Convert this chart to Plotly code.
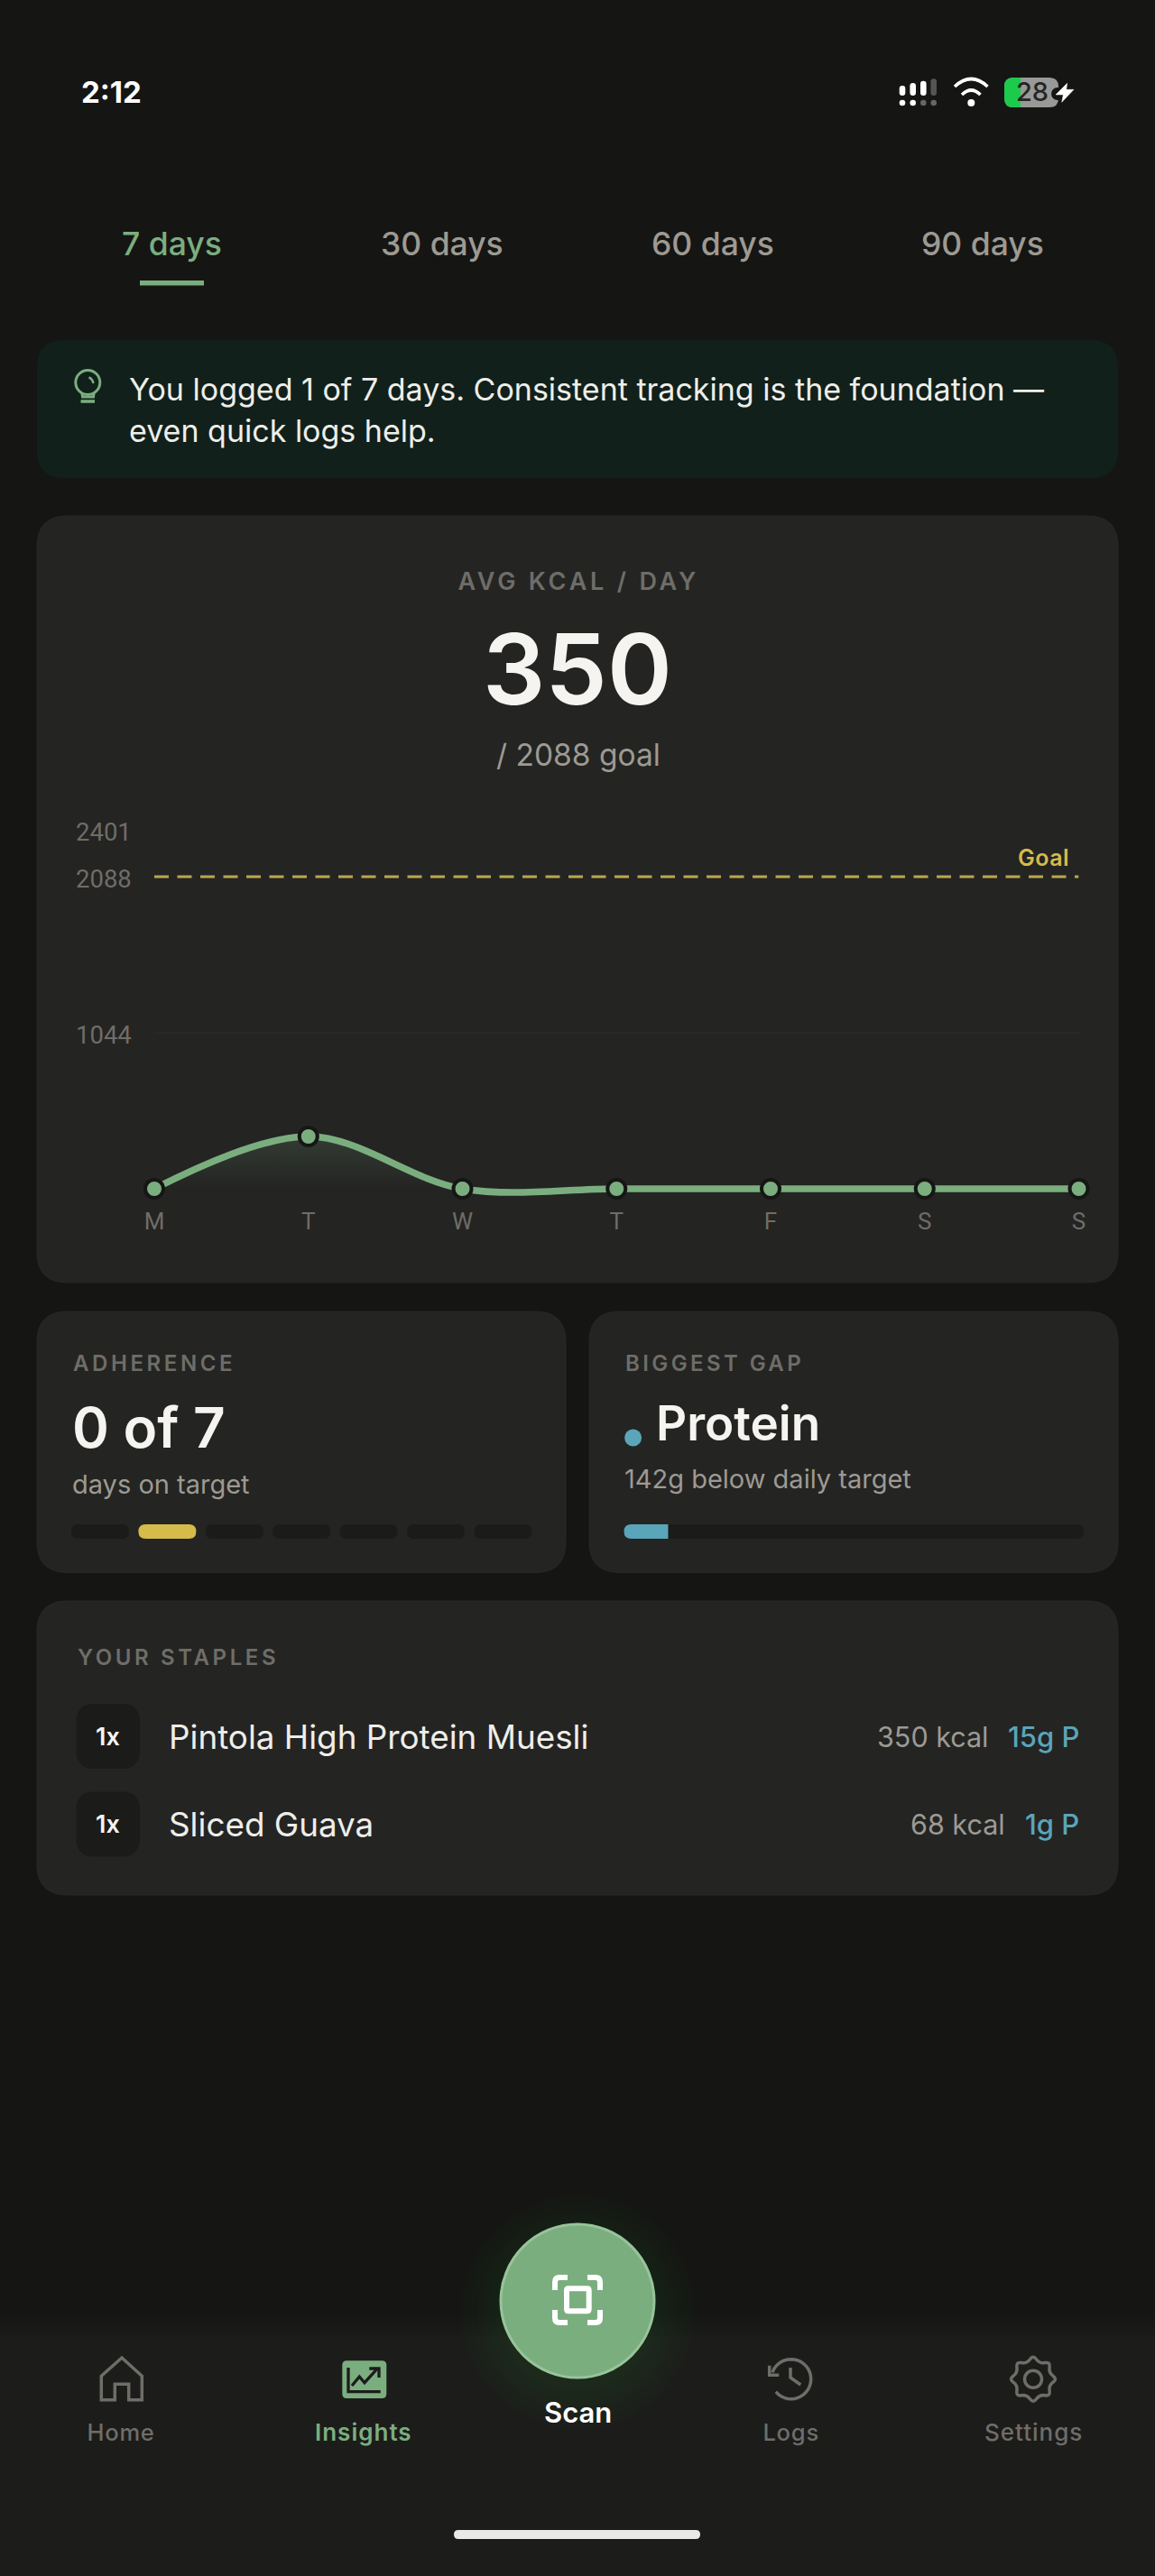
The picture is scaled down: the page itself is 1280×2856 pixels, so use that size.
import math
import re
import plotly.graph_objects as go

W, H = 1280, 2856

# chart values
DAYS = ["M", "T", "W", "T", "F", "S", "S"]
KCAL = [0, 350, 0, 0, 0, 0, 0]
GOAL = 2088
Y_TICKS = [0, 1044, 2088, 2401]
Y_MAX = 2401
GRID_VALUE = 1044

# other numbers shown on the screen
TABS = ["7 days", "30 days", "60 days", "90 days"]
TAB_CENTERS = [190, 490, 790, 1089]
ADHERENCE_HITS = [0, 1, 0, 0, 0, 0, 0]
GAP_FILL = 0.096
STAPLE_NAMES = ["Pintola High Protein Muesli", "Sliced Guava"]
STAPLE_KCAL = ["350 kcal", "68 kcal"]
STAPLE_PROTEIN = ["15g P", "1g P"]

BG = "#151514"
NAV = "#1c1c1b"
CARD = "#242423"
CARD_EDGE = "#282827"
SLOT = "#1b1b1a"
GREEN = "#7bae7f"
YELLOW = "#d4bb4a"
BLUE = "#5aa5b9"
WHITE = "#f5f4f1"
MUTED = "#9d9a92"
DIM = "#6f6d68"
FONT = "Inter"

# plot area: 0 kcal sits at y=1318, 2401 at y=920, padded so the curve and top label are not cut
Y_ZERO_PX = 1318
PX_PER_KCAL = (1318 - 920) / Y_MAX
Y_PAD_LOW = -80
Y_PAD_HIGH = Y_MAX + 120


def X(v):
    return v / W


def Y(v):
    return 1 - v / H


def pp(d):
    """Turn a pixel path string into a paper path string."""
    tokens = re.findall(r"[MLQCZ]|-?[\d.]+", d)
    out, is_x = [], True
    for t in tokens:
        if t in "MLQCZ":
            out.append(t)
        else:
            out.append(f"{X(float(t)):.6f}" if is_x else f"{Y(float(t)):.6f}")
            is_x = not is_x
    return " ".join(out)


shapes = []
annotations = []


def path(d, fill=None, line=None, width=0):
    shapes.append(dict(type="path", xref="paper", yref="paper", path=pp(d), layer="below",
                       fillcolor=fill or "rgba(0,0,0,0)",
                       line=dict(color=line or "rgba(0,0,0,0)", width=width)))


def rect(x0, y0, x1, y1, r=0, fill=None, line=None, width=0, right_r=None):
    rr = r if right_r is None else right_r
    d = (f"M {x0 + r} {y0} L {x1 - rr} {y0} Q {x1} {y0} {x1} {y0 + rr} "
         f"L {x1} {y1 - rr} Q {x1} {y1} {x1 - rr} {y1} L {x0 + r} {y1} "
         f"Q {x0} {y1} {x0} {y1 - r} L {x0} {y0 + r} Q {x0} {y0} {x0 + r} {y0} Z")
    path(d, fill, line, width)


def circle(cx, cy, r, fill=None, line=None, width=0):
    shapes.append(dict(type="circle", xref="paper", yref="paper", layer="below",
                       x0=X(cx - r), x1=X(cx + r), y0=Y(cy + r), y1=Y(cy - r),
                       fillcolor=fill or "rgba(0,0,0,0)",
                       line=dict(color=line or "rgba(0,0,0,0)", width=width)))


def txt(x, y, text, size, color, anchor="left", weight=400, family=FONT):
    annotations.append(dict(x=X(x), y=Y(y), xref="paper", yref="paper", text=text,
                            showarrow=False, xanchor=anchor, yanchor="middle",
                            align=anchor, borderpad=0,
                            font=dict(family=family, size=size, color=color, weight=weight)))


# page background and nav strip
rect(0, 2590, W, H, fill=NAV)
for i, col in enumerate(["#161615", "#171716", "#181817", "#191918", "#1a1a19"]):
    rect(0, 2565 + i * 5, W, 2590, fill=col)

# banner
rect(41, 377, 1239, 530, 30, fill="#11201b")
circle(97.3, 424, 13.5, line=GREEN, width=3)
path("M 91 436 L 91.5 440 L 103.5 440 L 104 436", line=GREEN, width=3)
path("M 89.5 445 L 105 445", line=GREEN, width=3.5)
path("M 98.5 418.5 Q 102.5 420 103.5 425", line=GREEN, width=2.5)

# cards
rect(41, 572, 1239, 1422, 34, fill=CARD, line=CARD_EDGE, width=1)
rect(41, 1454, 627, 1743.5, 34, fill=CARD, line=CARD_EDGE, width=1)
rect(653, 1454, 1239, 1743.5, 34, fill=CARD, line=CARD_EDGE, width=1)
rect(41, 1775, 1239, 2101, 34, fill=CARD, line=CARD_EDGE, width=1)

# status bar
for cx, top, col in zip([1000, 1011.7, 1023.3, 1034.7], [95, 92, 89.7, 87.3],
                        ["#ffffff", "#ffffff", "#ffffff", "#555554"]):
    rect(cx - 3.3, top, cx + 3.3, 106, 3.2, fill=col)
for cx, col in zip([1000, 1011.7, 1023.3, 1034.7], ["#ffffff", "#ffffff", "#666665", "#666665"]):
    circle(cx, 114, 3.3, fill=col)
circle(1076.3, 114, 4, fill="#ffffff")
path("M 1058 96 Q 1076.3 79 1094.5 96", line="#ffffff", width=3.6)
path("M 1066 105 Q 1076.3 95 1086.5 105", line="#ffffff", width=3.6)
rect(1113, 86, 1173, 119, 10, fill="#999998")
rect(1113, 86, 1131, 119, 10, fill="#1ccb4b", right_r=0)
circle(1172, 104, 7, fill=BG)
path("M 1182.7 92.3 L 1170 105 L 1178.3 105 L 1176.7 113.3 L 1190 99.3 L 1181.7 99.3 Z",
     fill="#ffffff", line="#ffffff", width=0.5)
txt(88.5, 102, "2:12", 33, "#ffffff", weight=700)
txt(1144, 102, "28", 29, "#252524", "center", weight=500)

# tabs
for i, (tab, cx) in enumerate(zip(TABS, TAB_CENTERS)):
    txt(cx, 270, tab, 35.5, GREEN if i == 0 else MUTED, "center", weight=500)
rect(155, 311, 226, 316.5, fill=GREEN)

txt(141.5, 431.5, "You logged 1 of 7 days. Consistent tracking is the foundation —", 34, "#eeeee9")
txt(141.5, 478, "even quick logs help.", 34, "#eeeee9")

# main card text
txt(640.5, 644.5, "AVG KCAL / DAY", 27, DIM, "center", weight=600)
txt(640, 741, "350", 109, WHITE, "center", weight=600)
txt(640.5, 836.5, "/ 2088 goal", 33.5, MUTED, "center")
txt(1186, 951, "Goal", 25, YELLOW, "right", weight=600)

# adherence card
txt(80, 1511, "ADHERENCE", 24, DIM, weight=600)
txt(79, 1582, "0 of 7", 62, WHITE, weight=600)
txt(79, 1646, "days on target", 29, MUTED)
for i, hit in enumerate(ADHERENCE_HITS):
    x0 = 79 + i * 74.4
    rect(x0, 1690, x0 + 64, 1706, 8, fill=YELLOW if hit else SLOT)

# biggest gap card
txt(692, 1511, "BIGGEST GAP", 24, DIM, weight=600)
circle(701.6, 1594, 9.5, fill=BLUE)
txt(725.5, 1578, "Protein", 53, WHITE, weight=600)
txt(691, 1640, "142g below daily target", 29, MUTED)
rect(691.5, 1690, 1201, 1706, 8, fill=SLOT)
rect(691.5, 1690, 691.5 + (1201 - 691.5) * GAP_FILL, 1706, 8, fill=BLUE, right_r=0)

# staples card
txt(85, 1837, "YOUR STAPLES", 24, DIM, weight=600)
for i, name in enumerate(STAPLE_NAMES):
    cy = 1925 + i * 97.5
    rect(84.5, cy - 36, 155, cy + 36, 20, fill=SLOT)
    txt(119.5, cy, "1x", 27, WHITE, "center", weight=600)
    txt(185.5, cy, name, 36.8, "#eeeee9")
    txt(1196.5, cy, STAPLE_PROTEIN[i], 31, BLUE, "right", weight=500)
    txt(1096.5 if i == 0 else 1115, cy, STAPLE_KCAL[i], 30.5, MUTED, "right")

# scan button
for i in range(13):
    circle(640, 2563, 135 - i * 4, fill="rgba(123,174,127,0.012)")
circle(640, 2551, 85, fill="#7bae7f", line="#97c49a", width=3)
path("M 615 2539 L 615 2530 Q 615 2525 620 2525 L 629 2525", line="#ffffff", width=6)
path("M 651 2525 L 660 2525 Q 665 2525 665 2530 L 665 2539", line="#ffffff", width=6)
path("M 615 2561 L 615 2570 Q 615 2575 620 2575 L 629 2575", line="#ffffff", width=6)
path("M 651 2575 L 660 2575 Q 665 2575 665 2570 L 665 2561", line="#ffffff", width=6)
rect(628, 2537.3, 652.7, 2562.3, 2, line="#ffffff", width=6)
txt(640, 2674.5, "Scan", 31, "#ffffff", "center", weight=600)

# nav icons
NAV_ICON = "#6f6d68"
path("M 135 2614 L 157.3 2634.3 L 157.3 2660.7 L 142.7 2660.7 L 142.7 2643.3 L 127.3 2643.3 "
     "L 127.3 2660.7 L 112.3 2660.7 L 112.3 2634.3 Z", line=NAV_ICON, width=3.5)
rect(379.3, 2617.3, 428.3, 2659, 5, fill=GREEN)
path("M 386 2625 L 386 2651.7 L 421.7 2651.7", line=NAV, width=3.3)
path("M 390 2645 L 398.3 2635 L 404 2641.7 L 418.3 2626", line=NAV, width=3.3)
path("M 409.3 2626 L 420 2626 L 420 2636", line=NAV, width=3.3)

# logs clock arc, runs clockwise from the arrow round to lower left
arc = []
for deg in range(-160, 150, 10):
    a = math.radians(deg)
    arc.append(f"{876.7 + 22 * math.cos(a):.1f} {2637.7 + 22 * math.sin(a):.1f}")
path("M " + " L ".join(arc), line=NAV_ICON, width=3.5)
path("M 852.7 2622.7 L 852.7 2633.3 L 863.3 2633.3", line=NAV_ICON, width=3.5)
path("M 876 2625 L 876 2636 L 887.3 2644", line=NAV_ICON, width=3.5)

# gear
pts = []
for i in range(16):
    a = math.radians(i * 22.5 - 90)
    r = 27 if i % 2 == 0 else 18.5
    pts.append((1145 + r * math.cos(a), 2637.7 + r * math.sin(a)))
gear = f"M {(pts[0][0] + pts[15][0]) / 2:.1f} {(pts[0][1] + pts[15][1]) / 2:.1f}"
for i in range(16):
    nx, ny = pts[(i + 1) % 16]
    gear += f" Q {pts[i][0]:.1f} {pts[i][1]:.1f} {(pts[i][0] + nx) / 2:.1f} {(pts[i][1] + ny) / 2:.1f}"
path(gear + " Z", line=NAV_ICON, width=3.5)
circle(1145, 2637.7, 9.5, line=NAV_ICON, width=3.5)

txt(134, 2696, "Home", 25.5, DIM, "center", weight=500)
txt(403, 2696, "Insights", 26, GREEN, "center", weight=600)
txt(876, 2696, "Logs", 25.5, DIM, "center", weight=500)
txt(1145, 2696, "Settings", 26, DIM, "center", weight=500)
rect(503, 2805, 776, 2815, 5, fill="#e9e9e7")

fig = go.Figure()

# faint grid line at half goal
fig.add_trace(go.Scatter(x=[0, len(DAYS) - 1], y=[GRID_VALUE, GRID_VALUE], mode="lines",
                         line=dict(color="#2a2a29", width=1.5), hoverinfo="skip"))
# goal line
fig.add_trace(go.Scatter(x=[0, len(DAYS) - 1], y=[GOAL, GOAL], mode="lines",
                         line=dict(color="#b9a84e", width=3, dash="16px,9.5px"), hoverinfo="skip"))
# kcal curve
fig.add_trace(go.Scatter(
    x=list(range(len(DAYS))), y=KCAL, mode="lines+markers", cliponaxis=False,
    line=dict(color=GREEN, width=7.5, shape="spline", smoothing=1),
    marker=dict(color=GREEN, size=20, line=dict(color="#161615", width=4)),
    fill="tozeroy", fillcolor="rgba(123,174,127,0.15)",
    fillgradient=dict(type="vertical", colorscale=[[0, "rgba(123,174,127,0)"], [1, "rgba(123,174,127,0.17)"]],
                      start=0, stop=max(KCAL)),
    hoverinfo="skip"))

fig.update_layout(
    width=W, height=H, margin=dict(l=0, r=0, t=0, b=0, pad=0, autoexpand=False),
    paper_bgcolor=BG, plot_bgcolor="rgba(0,0,0,0)", showlegend=False, hovermode=False,
    shapes=shapes, annotations=annotations,
    xaxis=dict(domain=[X(171), X(1195.5)], range=[0, len(DAYS) - 1], tickmode="array",
               tickvals=list(range(len(DAYS))), ticktext=DAYS, showgrid=False, zeroline=False,
               showline=False, ticks="", ticklabelstandoff=5,
               tickfont=dict(family="Roboto", size=26, color=DIM)),
    yaxis=dict(domain=[Y(Y_ZERO_PX - Y_PAD_LOW * PX_PER_KCAL), Y(Y_ZERO_PX - Y_PAD_HIGH * PX_PER_KCAL)],
               range=[Y_PAD_LOW, Y_PAD_HIGH], tickmode="array", tickvals=Y_TICKS,
               anchor="free", position=X(80), showgrid=False, zeroline=False, showline=False,
               ticks="", ticklabelposition="inside", ticklabelshift=2,
               tickfont=dict(family="Roboto", size=27.5, color=DIM)),
)

# letter spacing on the small caps labels, plotly has no attribute for it
SPACING_JS = """
document.body.style.margin = '0';
document.body.style.background = '#151514';
var spaced = {'AVG KCAL / DAY': '3.8px', 'ADHERENCE': '3.6px', 'BIGGEST GAP': '3.4px', 'YOUR STAPLES': '3.6px',
              'Home': '0.8px', 'Insights': '1px', 'Logs': '0.8px', 'Settings': '1px', 'Goal': '0.5px'};
document.querySelectorAll('.annotation-text').forEach(function (t) {
    if (spaced[t.textContent]) { t.style.letterSpacing = spaced[t.textContent]; }
});
"""

fig.write_html("out.html", config=dict(displayModeBar=False, responsive=False), post_script=SPACING_JS)
